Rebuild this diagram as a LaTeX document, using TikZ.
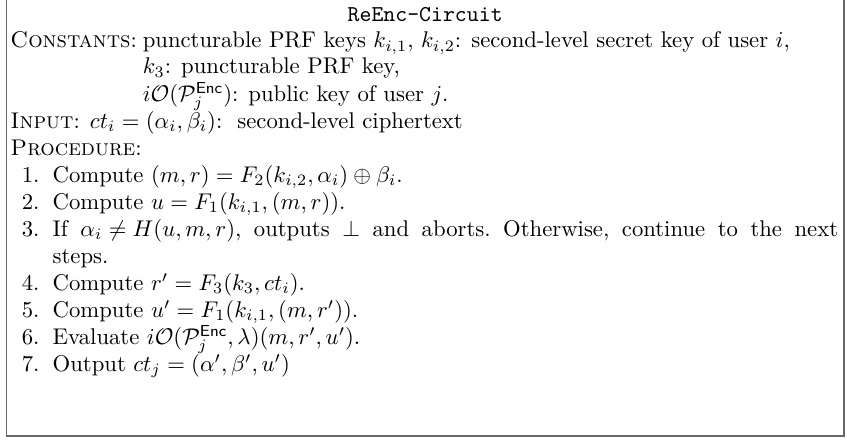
\documentclass[tikz,border=0pt]{standalone}
\usepackage{tikz}
\usetikzlibrary{positioning}

\begin{document}
\begin{tikzpicture}[
    x=1pt, y=1pt,
    txt/.style={anchor=base west, inner sep=0pt},
    frame/.style={draw=black!60, line width=0.8pt}
]

  % Define variables for better adjustability
  \def\boxW{373.1}     % Width of the picture
  \def\boxH{193.8}     % Height of the picture
  \def\lineSep{11.9}   % Distance between baselines
  \def\textX{4.4}      % Left edge of the text
  \def\labelX{9.4}     % Left edge of the step numbers
  \def\stepX{23}       % Left edge of the step texts
  \def\stepW{346pt}    % Width of a full (justified) step line

  \useasboundingbox (0,0) rectangle (\boxW,-\boxH);

  % Frame corners (the box has no top rule)
  \coordinate (TopLeft)  at (2.9,0);
  \coordinate (BotLeft)  at (2.9,-192.1);
  \coordinate (BotRight) at (371.8,-192.1);
  \coordinate (TopRight) at (371.8,0);

  % Draw the frame
  \draw[frame] (TopLeft) -- (BotLeft) -- (BotRight) -- (TopRight);

  % Title
  \node[anchor=base, inner sep=0pt] (title) at (187.3,-9.25) {\texttt{ReEnc-Circuit}};

  % Constants (hanging lines start after the label)
  \node[txt] (constLabel) at (\textX,-21.1) {\textsc{Constants}:};
  \node[txt] (const1) at ([xshift=2.2pt]constLabel.base east) {puncturable PRF keys $k_{i,1}$, $k_{i,2}$: second-level secret key of user $i$,};
  \node[txt] (const2) at ([yshift=-11.4pt]const1.base west) {$k_3$: puncturable PRF key,};
  \node[txt] (const3) at ([yshift=-12.1pt]const2.base west) {$i\mathcal{O}(\mathcal{P}_j^{\mathsf{Enc}})$: public key of user $j$.};

  % Input and procedure headers
  \node[txt] (input) at (\textX,-56.5) {\textsc{Input}: $ct_i=(\alpha_i,\beta_i)$:\ \ second-level ciphertext};
  \node[txt] (proc) at (\textX,-68.4) {\textsc{Procedure}:};

  % Step numbers
  \node[txt] (num1) at (\labelX,-80.3)  {1.};
  \node[txt] (num2) at (\labelX,-92.2)  {2.};
  \node[txt] (num3) at (\labelX,-104.1) {3.};
  \node[txt] (num4) at (\labelX,-127.9) {4.};
  \node[txt] (num5) at (\labelX,-139.8) {5.};
  \node[txt] (num6) at (\labelX,-151.7) {6.};
  \node[txt] (num7) at (\labelX,-163.6) {7.};

  % Step texts
  \node[txt] (step1) at (\stepX,-80.3)  {Compute $(m,r)=F_2(k_{i,2},\alpha_i)\oplus\beta_i$.};
  \node[txt] (step2) at (\stepX,-92.2)  {Compute $u=F_1(k_{i,1},(m,r))$.};
  \node[txt] (step3) at (\stepX,-104.1) {\frenchspacing\thickmuskip=5mu\medmuskip=4mu\hbox to \stepW{If $\alpha_i\neq H(u,m,r)$, outputs $\perp$ and aborts. Otherwise, continue to the next}};
  \node[txt] (step3b) at ([yshift=-\lineSep pt]step3.base west) {steps.};
  \node[txt] (step4) at (\stepX,-127.9) {Compute $r'=F_3(k_3,ct_i)$.};
  \node[txt] (step5) at (\stepX,-139.8) {Compute $u'=F_1(k_{i,1},(m,r'))$.};
  \node[txt] (step6) at (\stepX,-151.7) {Evaluate $i\mathcal{O}(\mathcal{P}_j^{\mathsf{Enc}},\lambda)(m,r',u')$.};
  \node[txt] (step7) at (\stepX,-163.6) {Output $ct_j=(\alpha',\beta',u')$};

\end{tikzpicture}
\end{document}
